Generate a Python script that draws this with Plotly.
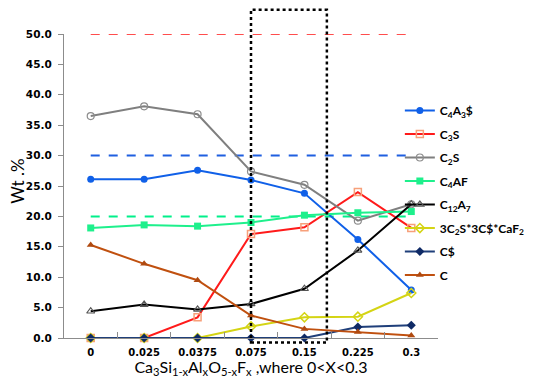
import plotly.graph_objects as go

categories = ["0", "0.025", "0.0375", "0.075", "0.15", "0.225", "0.3"]

c4a3s = [26.1, 26.1, 27.6, 26.0, 23.8, 16.2, 7.9]
c3s = [0.0, 0.0, 3.4, 17.1, 18.2, 24.0, 18.1]
c2s = [36.5, 38.1, 36.8, 27.4, 25.2, 19.3, 22.0]
c4af = [18.1, 18.6, 18.4, 19.0, 20.2, 20.6, 20.8]
c12a7 = [4.4, 5.5, 4.7, 5.6, 8.1, 14.4, 22.0]
fluor = [0.0, 0.0, 0.0, 1.9, 3.4, 3.5, 7.4]
cs = [0.0, 0.0, 0.0, 0.0, 0.0, 1.8, 2.1]
c_lime = [15.3, 12.2, 9.5, 3.7, 1.5, 1.0, 0.4]

ref_red = [50.0] * 7
ref_blue = [30.0] * 7
ref_green = [20.0] * 7

y_ticks = [0, 5, 10, 15, 20, 25, 30, 35, 40, 45, 50]

FONT = "Lato"
TICKFONT = "DejaVu Sans"

fig = go.Figure()

# reference dashed lines
for vals, col in [(ref_red, "#ff4d4d"), (ref_blue, "#1f5fe0"), (ref_green, "#00f08a")]:
    fig.add_trace(go.Scatter(x=categories, y=vals, mode="lines",
                             line=dict(color=col, width=2, dash="dash"),
                             showlegend=False, hoverinfo="skip"))

series = [
    ("C<sub>4</sub>A<sub>3</sub>$", c4a3s, "#1060e8", dict(symbol="circle", color="#1060e8", size=7)),
    ("C<sub>3</sub>S", c3s, "#ff1a1a", dict(symbol="square-open", color="#f7a07a", size=7, line=dict(width=1.5))),
    ("C<sub>2</sub>S", c2s, "#7f7f7f", dict(symbol="circle-open", color="#8c8c8c", size=7, line=dict(width=1.2))),
    ("C<sub>4</sub>AF", c4af, "#1ef08c", dict(symbol="square", color="#1ef08c", size=7)),
    ("C<sub>12</sub>A<sub>7</sub>", c12a7, "#000000", dict(symbol="triangle-up-open", color="#555555", size=7, line=dict(width=1.2))),
    ("3C<sub>2</sub>S*3C$*CaF<sub>2</sub>", fluor, "#d4d414", dict(symbol="diamond-open", color="#d4d414", size=7, line=dict(width=1.5))),
    ("C$", cs, "#1f3f7a", dict(symbol="diamond", color="#0f2a66", size=7)),
    ("C", c_lime, "#c0500f", dict(symbol="triangle-up", color="#b04a10", size=7)),
]

for i, (name, vals, col, mk) in enumerate(series):
    fig.add_trace(go.Scatter(x=categories, y=vals, name=name, mode="lines+markers",
                             line=dict(color=col, width=2), marker=mk,
                             cliponaxis=False, legendgroup=f"g{i}"))

# dotted rectangle highlighting region
fig.add_shape(type="rect", xref="x", yref="paper",
              x0=3.0, x1=4.42, y0=-0.015, y1=1.08,
              line=dict(color="black", width=2.5, dash="dot"),
              fillcolor="rgba(0,0,0,0)", layer="above")

# y-axis title
fig.add_annotation(text="Wt .%", xref="paper", yref="paper", x=-0.124, y=0.516,
                   xanchor="center", yanchor="middle", textangle=-90, showarrow=False,
                   font=dict(family=FONT, size=17, color="black"))

fig.update_layout(
    width=517, height=370,
    margin=dict(l=56, r=87, t=26, b=40, autoexpand=False),
    paper_bgcolor="white", plot_bgcolor="white",
    font=dict(family=FONT, color="black"),
    showlegend=True,
    legend=dict(x=0.898, xanchor="left", y=0.796, yanchor="top",
                font=dict(family=FONT, size=12, color="black", weight="bold"),
                bgcolor="rgba(0,0,0,0)", tracegroupgap=4.5),
    xaxis=dict(type="category", range=[-0.5, 6.5], showgrid=False, automargin=False,
               showline=True, linecolor="#8c8c8c", linewidth=1.3,
               ticks="inside", tickson="boundaries", ticklen=6, tickcolor="#8c8c8c",
               ticklabelstandoff=5,
               tickfont=dict(family=TICKFONT, size=10, color="black", weight="bold"),
               title=dict(text="Ca<sub>3</sub>Si<sub>1-x</sub>Al<sub>x</sub>O<sub>5-x</sub>F<sub>x</sub> ,where 0<X<0.3",
                          font=dict(family=FONT, size=16, color="black"), standoff=4),
               zeroline=False),
    yaxis=dict(range=[0, 50], tickvals=y_ticks, tickformat=".1f", showgrid=False, automargin=False,
               showline=True, linecolor="#8c8c8c", linewidth=1.3,
               ticks="outside", ticklen=5, tickcolor="#8c8c8c", ticklabelstandoff=4,
               tickfont=dict(family=TICKFONT, size=10.5, color="black", weight="bold"),
               zeroline=False),
)

fig.write_html("out.html")
